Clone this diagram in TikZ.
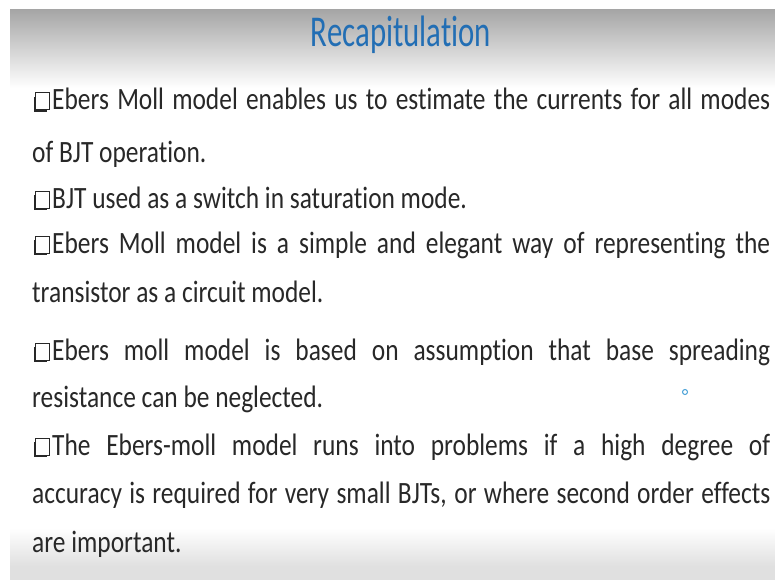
\documentclass[tikz,border=0pt]{standalone}
\usepackage{fontspec}
\setmainfont{Carlito}
\newfontfamily\bodyfont{Carlito}[FakeStretch=0.82, Ligatures=NoCommon]
\newfontfamily\titlefont{Carlito}[FakeStretch=0.70, Ligatures=NoCommon]
\definecolor{titleblue}{RGB}{34,110,180}
\definecolor{bodytext}{RGB}{40,40,40}
\definecolor{topgray}{RGB}{166,166,166}
\definecolor{botgray}{RGB}{224,224,224}
\definecolor{cursorblue}{RGB}{70,160,215}
\tikzset{
  bodyline/.style={anchor=base west, inner sep=0pt, text=bodytext,
    font=\bodyfont\fontsize{31}{31}\selectfont},
  titletext/.style={anchor=base, inner sep=0pt, text=titleblue,
    font=\titlefont\fontsize{44}{44}\selectfont},
}
\newcommand{\qbullet}[2]{%
  \draw[bodytext, line width=1pt] (#1+1,#2-17) rectangle (#1+15,#2);
  \draw[bodytext, line width=2.2pt] (#1+0.8,#2-13) -- (#1+0.8,#2+0.6) -- (#1+13,#2+0.6);
}
\begin{document}
\begin{tikzpicture}[x=1pt,y=-1pt]
\useasboundingbox (0,0) rectangle (775,580);
\fill[white] (0,0) rectangle (775,580);
% background gradients
\shade[top color=topgray, bottom color=white] (10,10) rectangle (775,88);
\shade[top color=white, bottom color=botgray] (10,528) rectangle (775,566);
\fill[botgray] (10,566) rectangle (775,580);
% title
\node[titletext] (title) at (401,47) {Recapitulation};
% bullets
\qbullet{34}{110}
\qbullet{34}{208}
\qbullet{34}{253}
\qbullet{34}{360}
\qbullet{34}{455}
% lines
\node[bodyline] (l1) at (52,110) {\makebox[718pt][s]{Ebers Moll model enables us to estimate the currents for all modes}};
\node[bodyline] (l2) at (32,162) {of BJT operation.};
\node[bodyline] (l3) at (52,208) {BJT used as a switch in saturation mode.};
\node[bodyline] (l4) at (52,253) {\makebox[718pt][s]{Ebers Moll model is a simple and elegant way of representing the}};
\node[bodyline] (l5) at (32,302) {transistor as a circuit model.};
\node[bodyline] (l6) at (52,360) {\makebox[718pt][s]{Ebers moll model is based on assumption that base spreading}};
\node[bodyline] (l7) at (32,407) {resistance can be neglected.};
\node[bodyline] (l8) at (52,455) {\makebox[718pt][s]{The Ebers-moll model runs into problems if a high degree of}};
\node[bodyline] (l9) at (32,503) {\makebox[738pt][s]{accuracy is required for very small BJTs, or where second order effects}};
\node[bodyline] (l10) at (32,552) {are important.};
% cursor
\draw[cursorblue, line width=1pt] (685,392) circle (2.5);
\end{tikzpicture}
\end{document}
